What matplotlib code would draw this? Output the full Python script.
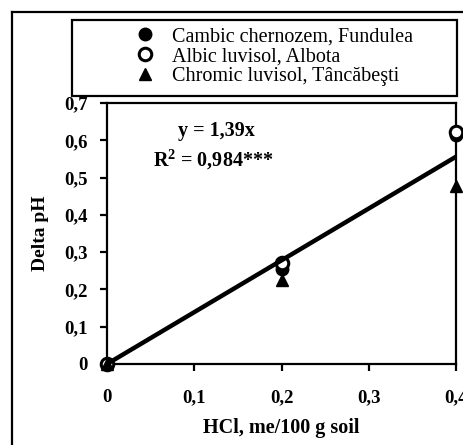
import matplotlib
matplotlib.use("Agg")
import matplotlib.pyplot as plt
from matplotlib.lines import Line2D
from matplotlib.patches import Rectangle
from matplotlib.ticker import FuncFormatter, MultipleLocator

plt.rcParams['font.family'] = ['Liberation Serif', 'DejaVu Serif']
plt.rcParams['mathtext.fontset'] = 'custom'
plt.rcParams['mathtext.rm'] = 'Liberation Serif'
plt.rcParams['mathtext.bf'] = 'Liberation Serif:bold'

# Data
hcl = [0.0, 0.2, 0.4]
cambic = [0.0, 0.255, 0.615]
albic = [0.0, 0.272, 0.622]
chromic = [0.0, 0.225, 0.478]
slope = 1.39
fit_x = [0.0, 0.4]
labels = ["Cambic chernozem, Fundulea", "Albic luvisol, Albota", "Chromic luvisol, Tâncăbeşti"]

W, H = 464, 445
fig = plt.figure(figsize=(W / 100, H / 100), dpi=100)
ax = fig.add_axes([107 / W, 1 - 364 / H, (456 - 107) / W, (364 - 103) / H])

ax.plot(hcl, cambic, 'o', color='black', markersize=9, clip_on=False, zorder=3)
ax.plot(hcl, albic, 'o', markerfacecolor='white', markeredgecolor='black',
        markeredgewidth=2.2, markersize=9, clip_on=False, zorder=3)
ax.plot(hcl, chromic, '^', color='black', markersize=9, clip_on=False, zorder=3)
ax.plot(fit_x, [slope * v for v in fit_x], color='black', linewidth=3.2,
        solid_capstyle='butt', clip_on=False, zorder=4)

ax.set_xlim(0, 0.4)
ax.set_ylim(0, 0.7)
ax.xaxis.set_major_locator(MultipleLocator(0.1))
ax.yaxis.set_major_locator(MultipleLocator(0.1))
fmt = FuncFormatter(lambda v, p: "0" if abs(v) < 1e-9 else f"{v:.1f}".replace('.', ','))
ax.xaxis.set_major_formatter(fmt)
ax.yaxis.set_major_formatter(fmt)
for s in ax.spines.values():
    s.set_linewidth(1.6)
ax.tick_params(direction='out', length=5, width=1.6, labelsize=13.5)
ax.tick_params(axis='x', pad=13)
ax.tick_params(axis='y', pad=9)
for lab in ax.get_xticklabels() + ax.get_yticklabels():
    lab.set_fontweight('bold')
ax.set_xlabel("HCl, me/100 g soil", fontsize=14.5, fontweight='bold', labelpad=9)
ax.set_ylabel("Delta pH", fontsize=14, fontweight='bold', labelpad=11)

ax.text(216 / W, 1 - 131 / H, "y = 1,39x", transform=fig.transFigure,
        ha='center', va='center', fontsize=14.5, fontweight='bold')
ax.text(153 / W, 1 - 160 / H, r"R$^{\mathbf{2}}$ = 0,984***", transform=fig.transFigure,
        ha='left', va='center', fontsize=14.5, fontweight='bold')

# Legend box
fig.patches.append(Rectangle((72 / W, 1 - 96 / H), (457 - 72) / W, (96 - 20) / H,
                             transform=fig.transFigure, fill=False, edgecolor='black',
                             linewidth=1.6))
handles = [
    Line2D([], [], marker='o', linestyle='none', color='black', markersize=9),
    Line2D([], [], marker='o', linestyle='none', markerfacecolor='white',
           markeredgecolor='black', markeredgewidth=2.2, markersize=9),
    Line2D([], [], marker='^', linestyle='none', color='black', markersize=9),
]
fig.legend(handles, labels, loc='upper left', bbox_to_anchor=(135 / W, 1 - 27 / H),
           frameon=False, fontsize=14.5, labelspacing=0.05, handlelength=1.0,
           handletextpad=0.85, borderpad=0, borderaxespad=0)

# Outer frame (cropped)
fig.add_artist(Line2D([12 / W, 12 / W], [0, 1 - 12 / H], transform=fig.transFigure,
                      color='black', linewidth=1.6))
fig.add_artist(Line2D([12 / W, 1], [1 - 12 / H, 1 - 12 / H], transform=fig.transFigure,
                      color='black', linewidth=1.6))

fig.savefig("out.png", dpi=100)
